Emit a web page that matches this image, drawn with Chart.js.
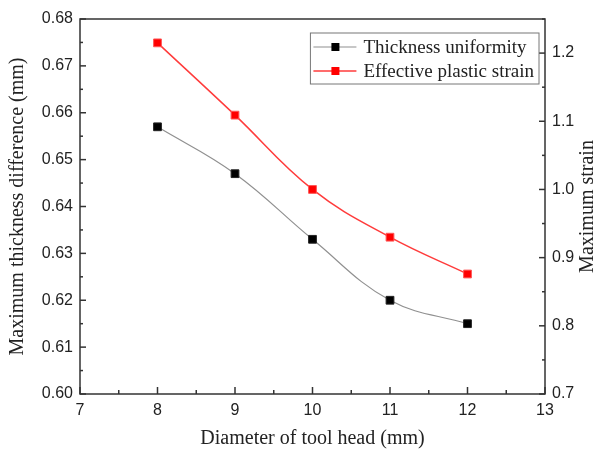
<!DOCTYPE html>
<html>
<head>
<meta charset="utf-8">
<script src="https://cdn.jsdelivr.net/npm/chart.js@4"></script>
<style>
  body { margin: 0; background: #fff; }
  canvas { display: block; }
</style>
</head>
<body>
<canvas id="myChart" width="598" height="453"></canvas>
<script>
// 데이터
const diameters = [8, 9, 10, 11, 12];
const thickness = [0.657, 0.647, 0.633, 0.620, 0.615];
const strain = [1.215, 1.109, 1.000, 0.930, 0.876];
const seriesNames = ["Thickness uniformity", "Effective plastic strain"];

const serif = "'Liberation Serif', 'Times New Roman', serif";
const sans = "'Liberation Sans', Arial, sans-serif";
const axisColor = '#333';

// 안쪽으로 향하는 눈금 + 오른쪽 축 제목 + 범례
const innerTicks = {
  id: 'innerTicks',
  afterDraw(chart) {
    const ctx = chart.ctx;
    const area = chart.chartArea;
    ctx.save();
    ctx.strokeStyle = axisColor;
    ctx.lineWidth = 1.5;
    ctx.strokeRect(area.left, area.top, area.right - area.left, area.bottom - area.top);

    const drawSet = (scale, minorStep, majorLen, minorLen, side) => {
      const vals = [];
      for (let v = scale.min; v <= scale.max + 1e-9; v += minorStep) vals.push(v);
      const majors = scale.ticks.map(t => t.value);
      vals.forEach(v => {
        const isMajor = majors.some(m => Math.abs(m - v) < minorStep / 10);
        const len = isMajor ? majorLen : minorLen;
        const p = scale.getPixelForValue(v);
        ctx.beginPath();
        if (side === 'bottom') { ctx.moveTo(p, area.bottom); ctx.lineTo(p, area.bottom - len); }
        if (side === 'left') { ctx.moveTo(area.left, p); ctx.lineTo(area.left + len, p); }
        if (side === 'right') { ctx.moveTo(area.right, p); ctx.lineTo(area.right - len, p); }
        ctx.stroke();
      });
    };
    drawSet(chart.scales.x, 0.5, 7, 4, 'bottom');
    drawSet(chart.scales.y, 0.005, 6, 3, 'left');
    drawSet(chart.scales.y1, 0.05, 6, 3, 'right');

    // 오른쪽 축 제목 (아래에서 위로 읽힘)
    ctx.fillStyle = '#222';
    ctx.font = "20px " + serif;
    ctx.textAlign = 'center';
    ctx.textBaseline = 'middle';
    ctx.translate(588, (area.top + area.bottom) / 2);
    ctx.rotate(-Math.PI / 2);
    ctx.fillText('Maximum strain', 0, 0);
    ctx.restore();

    // 범례
    ctx.save();
    const ds = chart.data.datasets;
    ctx.font = "19px " + serif;
    const textW = Math.max(...ds.map(d => ctx.measureText(d.label).width));
    const boxW = 53 + textW + 5;
    const boxRight = area.right - 6;
    const boxLeft = boxRight - boxW;
    const boxTop = area.top + 14;
    const boxH = 51;
    ctx.strokeStyle = '#777';
    ctx.lineWidth = 1;
    ctx.strokeRect(boxLeft, boxTop, boxW, boxH);
    ds.forEach((d, i) => {
      const cy = boxTop + 14 + i * 24;
      ctx.strokeStyle = d.borderColor;
      ctx.lineWidth = d.borderWidth;
      ctx.beginPath();
      ctx.moveTo(boxLeft + 3, cy);
      ctx.lineTo(boxLeft + 46, cy);
      ctx.stroke();
      ctx.fillStyle = d.pointBackgroundColor;
      ctx.fillRect(boxLeft + 21, cy - 4, 8, 8);
      ctx.fillStyle = '#222';
      ctx.textAlign = 'left';
      ctx.textBaseline = 'middle';
      ctx.fillText(d.label, boxLeft + 53, cy + 1);
    });
    ctx.restore();
  }
};

const ctx = document.getElementById("myChart").getContext('2d');
const myChart = new Chart(ctx, {
  type: 'line',
  data: {
    datasets: [
      {
        label: seriesNames[0],
        data: diameters.map((d, i) => ({x: d, y: thickness[i]})),
        yAxisID: 'y',
        borderColor: '#909090',
        borderWidth: 1.2,
        pointStyle: 'rect',
        pointRadius: 5.5,
        pointBackgroundColor: '#000',
        pointBorderColor: '#222',
        pointBorderWidth: 1,
        tension: 0.4
      },
      {
        label: seriesNames[1],
        data: diameters.map((d, i) => ({x: d, y: strain[i]})),
        yAxisID: 'y1',
        borderColor: '#ff3b3b',
        borderWidth: 1.5,
        pointStyle: 'rect',
        pointRadius: 5.5,
        pointBackgroundColor: '#ff0000',
        pointBorderColor: '#ff5555',
        pointBorderWidth: 1,
        tension: 0.4
      }
    ]
  },
  options: {
    responsive: false,
    animation: false,
    layout: { padding: { top: 19, left: 0, right: 0, bottom: 0 } },
    plugins: { legend: { display: false }, tooltip: { enabled: false } },
    scales: {
      x: {
        type: 'linear',
        min: 7, max: 13,
        grid: { display: false, drawTicks: false },
        border: { display: false },
        ticks: { stepSize: 1, padding: 7, color: '#222', font: { family: sans, size: 16 } },
        title: { display: true, text: 'Diameter of tool head (mm)', color: '#222', padding: { top: 4, bottom: 2 }, font: { family: serif, size: 20 } },
        afterFit: (s) => { s.height = 59; }
      },
      y: {
        position: 'left',
        min: 0.60, max: 0.68,
        grid: { display: false, drawTicks: false },
        border: { display: false },
        ticks: { stepSize: 0.01, padding: 7, color: '#222', font: { family: sans, size: 16 },
                 callback: v => v.toFixed(2) },
        title: { display: true, text: 'Maximum thickness difference (mm)', color: '#222', padding: { top: 6, bottom: 0 }, font: { family: serif, size: 20 } },
        afterFit: (s) => { s.width = 80; }
      },
      y1: {
        position: 'right',
        min: 0.7, max: 1.25,
        grid: { display: false, drawTicks: false },
        border: { display: false },
        ticks: { stepSize: 0.1, includeBounds: false, padding: 7, color: '#222', font: { family: sans, size: 16 },
                 callback: v => v.toFixed(1) },
        afterFit: (s) => { s.width = 53; }
      }
    }
  },
  plugins: [innerTicks]
});
</script>
</body>
</html>
